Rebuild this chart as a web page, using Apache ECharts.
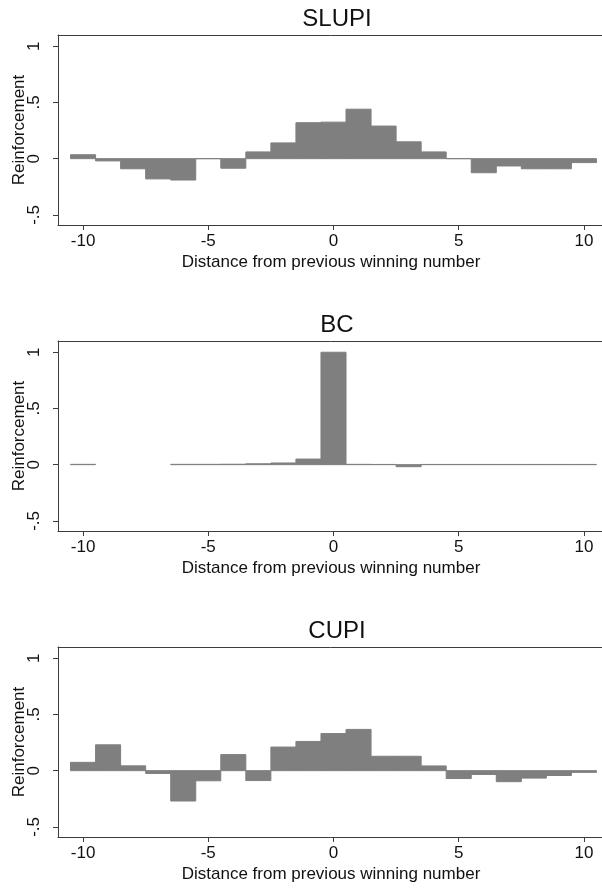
<!DOCTYPE html>
<html>
<head>
<meta charset="utf-8">
<script src="https://cdn.jsdelivr.net/npm/echarts@6/dist/echarts.min.js"></script>
<style>
html,body{margin:0;padding:0;background:#fff;overflow:hidden;}
#chart{width:602px;height:888px;}
</style>
</head>
<body>
<div id="chart"></div>
<script>
// Distance from previous winning number
const distance = [-10, -9, -8, -7, -6, -5, -4, -3, -2, -1, 0, 1, 2, 3, 4, 5, 6, 7, 8, 9, 10];
const panelTitles = ['SLUPI', 'BC', 'CUPI'];
const slupi = [0.035, -0.02, -0.09, -0.18, -0.19, 0.0, -0.085, 0.06, 0.14, 0.32, 0.325, 0.44, 0.29, 0.15, 0.06, 0.0, -0.125, -0.065, -0.09, -0.09, -0.035];
const bc = [0.003, null, null, null, 0.003, 0.003, 0.004, 0.008, 0.015, 0.05, 1.0, 0.003, 0.002, -0.018, 0.002, 0.002, 0.002, 0.002, 0.002, 0.002, 0.002];
const cupi = [0.074, 0.23, 0.043, -0.025, -0.27, -0.09, 0.143, -0.088, 0.21, 0.26, 0.33, 0.367, 0.128, 0.128, 0.042, -0.07, -0.034, -0.098, -0.066, -0.043, -0.015];
const xTicks = [-10, -5, 0, 5, 10];
const yTicks = [-0.5, 0, 0.5, 1];
const yTickLabels = {'-0.5': '-.5', '0': '0', '0.5': '.5', '1': '1'};
const xTitle = 'Distance from previous winning number';
const yTitle = 'Reinforcement';

const seriesValues = [slupi, bc, cupi];
const gridTops = [35, 341, 647];
const gridHeight = 190;
const FONT = '"Liberation Sans", Arial, sans-serif';
const AXIS_COLOR = '#3c3c3c';
const BAR_COLOR = '#7f7f7f';

const chart = echarts.init(document.getElementById('chart'), null, {renderer: 'canvas'});

const grids = [], xAxes = [], yAxes = [], series = [], titles = [];
seriesValues.forEach((vals, i) => {
  grids.push({left: 58, top: gridTops[i], width: 560, height: gridHeight,
    outerBoundsMode: 'none', containLabel: false, show: false});
  titles.push({text: panelTitles[i], left: 332, top: gridTops[i] - 33, textAlign: 'center',
    textStyle: {fontFamily: FONT, fontSize: 24, fontWeight: 'normal', color: '#111'}});
  xAxes.push({type: 'value', gridIndex: i, min: -11, max: 11.36, position: 'bottom',
    name: xTitle, nameLocation: 'middle', nameGap: 29, nameMoveOverlap: false,
    nameTextStyle: {fontFamily: FONT, fontSize: 17, color: '#111', padding: [0, 14, 0, 0]},
    axisLine: {show: true, onZero: false, lineStyle: {color: AXIS_COLOR, width: 1}},
    axisTick: {show: true, length: 5, customValues: xTicks, lineStyle: {color: AXIS_COLOR}},
    axisLabel: {show: true, margin: 8, customValues: xTicks, fontFamily: FONT, fontSize: 17, color: '#111',
      formatter: v => String(v)},
    splitLine: {show: false}});
  // top frame line of the plot region
  xAxes.push({type: 'value', gridIndex: i, min: -11, max: 11.36, position: 'top',
    axisLine: {show: true, onZero: false, lineStyle: {color: AXIS_COLOR, width: 1}},
    axisTick: {show: false}, axisLabel: {show: false}, splitLine: {show: false}});
  yAxes.push({type: 'value', gridIndex: i, min: -0.59, max: 1.1,
    name: yTitle, nameLocation: 'middle', nameGap: 30, nameRotate: 90, nameMoveOverlap: false,
    nameTextStyle: {fontFamily: FONT, fontSize: 17, color: '#111'},
    axisLine: {show: true, onZero: false, lineStyle: {color: AXIS_COLOR, width: 1}},
    axisTick: {show: true, length: 5, customValues: yTicks, lineStyle: {color: AXIS_COLOR}},
    axisLabel: {show: true, rotate: 90, margin: 15, customValues: yTicks, fontFamily: FONT, fontSize: 17, color: '#111',
      formatter: v => yTickLabels[String(v)] !== undefined ? yTickLabels[String(v)] : String(v)},
    splitLine: {show: false}});
  const data = distance.map((d, k) => [d, vals[k]]).filter(p => p[1] !== null);
  series.push({type: 'custom', xAxisIndex: 2 * i, yAxisIndex: i, data: data, clip: true,
    renderItem: function (params, api) {
      const x = api.value(0), y = api.value(1);
      const p0 = api.coord([x - 0.5, 0]);
      const p1 = api.coord([x + 0.5, y]);
      return {type: 'rect',
        shape: {x: p0[0], y: Math.min(p0[1], p1[1]), width: p1[0] - p0[0], height: Math.abs(p1[1] - p0[1])},
        style: {fill: BAR_COLOR, stroke: BAR_COLOR, lineWidth: 1}};
    }});
});

chart.setOption({
  animation: false,
  backgroundColor: '#fff',
  title: titles,
  grid: grids,
  xAxis: xAxes,
  yAxis: yAxes,
  series: series
});
</script>
</body>
</html>
